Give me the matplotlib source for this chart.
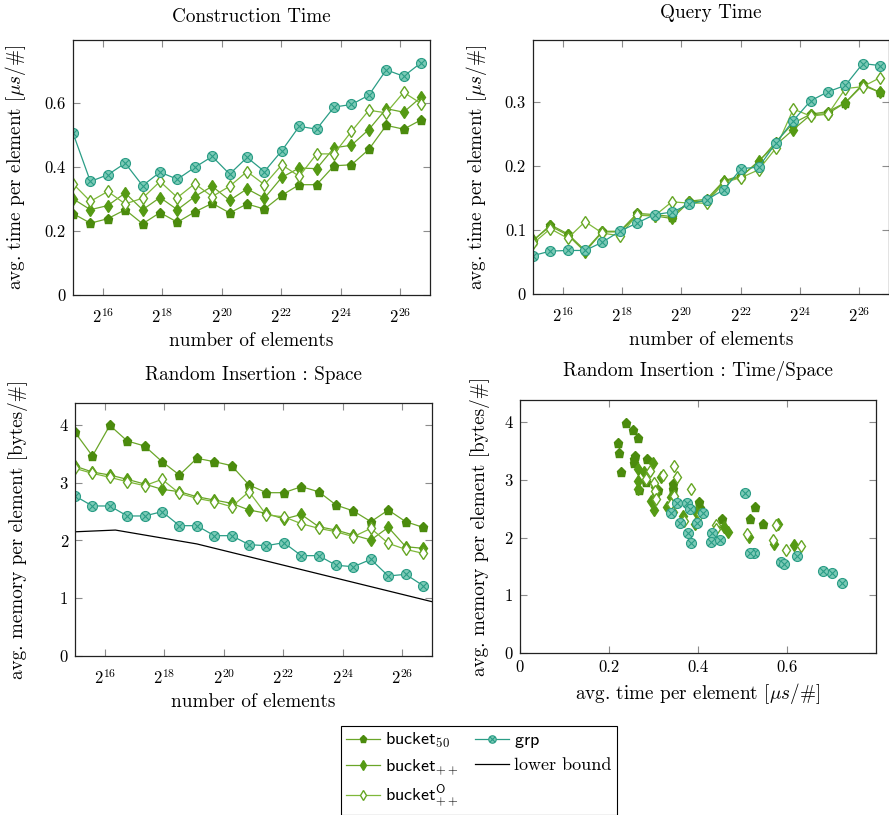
import matplotlib
matplotlib.use("Agg")
import matplotlib.pyplot as plt
from matplotlib.path import Path

plt.rcParams["font.family"] = "cmr10"
plt.rcParams["mathtext.fontset"] = "cm"
plt.rcParams["axes.formatter.use_mathtext"] = True
plt.rcParams["font.size"] = 12

# number of elements (x axis of the first three panels)
n_elements = [32768, 49152, 73728, 110592, 165888, 248832, 373248, 559872,
              839808, 1259712, 1889568, 2834352, 4251528, 6377292, 9565938,
              14348907, 21523360, 32285041, 48427561, 72641342, 108962013]

# construction time per element [us]
build_b50 = [0.254, 0.224, 0.238, 0.266, 0.222, 0.257, 0.227, 0.259, 0.286, 0.256, 0.284,
             0.268, 0.311, 0.344, 0.344, 0.403, 0.406, 0.454, 0.529, 0.517, 0.546]
build_bpp = [0.300, 0.266, 0.279, 0.318, 0.266, 0.304, 0.266, 0.307, 0.339, 0.295, 0.331,
             0.302, 0.367, 0.396, 0.394, 0.459, 0.467, 0.516, 0.581, 0.570, 0.617]
build_bopp = [0.347, 0.292, 0.323, 0.284, 0.302, 0.354, 0.304, 0.347, 0.307, 0.339, 0.385,
              0.344, 0.406, 0.370, 0.440, 0.440, 0.510, 0.576, 0.568, 0.632, 0.597]
build_grp = [0.505, 0.354, 0.375, 0.411, 0.341, 0.383, 0.361, 0.398, 0.432, 0.377, 0.429,
             0.385, 0.450, 0.526, 0.517, 0.586, 0.594, 0.623, 0.702, 0.682, 0.724]

# query time per element [us]
query_b50 = [0.083, 0.108, 0.094, 0.068, 0.098, 0.098, 0.126, 0.124, 0.121, 0.145, 0.148,
             0.177, 0.185, 0.206, 0.238, 0.267, 0.281, 0.285, 0.299, 0.328, 0.315]
query_bpp = [0.084, 0.106, 0.092, 0.066, 0.097, 0.097, 0.123, 0.122, 0.118, 0.144, 0.145,
             0.176, 0.183, 0.208, 0.233, 0.257, 0.280, 0.282, 0.299, 0.326, 0.315]
query_bopp = [0.079, 0.102, 0.087, 0.113, 0.095, 0.091, 0.124, 0.122, 0.144, 0.142, 0.142,
              0.174, 0.182, 0.194, 0.228, 0.289, 0.278, 0.281, 0.321, 0.324, 0.338]
query_grp = [0.060, 0.067, 0.068, 0.068, 0.081, 0.098, 0.111, 0.124, 0.128, 0.140, 0.147,
             0.163, 0.196, 0.198, 0.236, 0.271, 0.302, 0.316, 0.326, 0.360, 0.357]

# memory per element [bytes]
space_b50 = [3.872, 3.462, 3.993, 3.722, 3.635, 3.364, 3.133, 3.422, 3.364, 3.295, 2.960,
             2.827, 2.827, 2.931, 2.844, 2.613, 2.510, 2.325, 2.527, 2.325, 2.227]
space_bpp = [3.288, 3.184, 3.133, 3.058, 2.977, 2.885, 2.844, 2.757, 2.700, 2.643, 2.527,
             2.470, 2.370, 2.450, 2.238, 2.180, 2.094, 2.008, 2.227, 1.892, 1.864]
space_bopp = [3.248, 3.162, 3.093, 3.017, 2.948, 3.058, 2.815, 2.729, 2.671, 2.584, 2.844,
              2.440, 2.410, 2.290, 2.210, 2.151, 2.065, 2.210, 1.950, 1.846, 1.777]
space_grp = [2.770, 2.597, 2.597, 2.424, 2.424, 2.499, 2.256, 2.256, 2.083, 2.083, 1.927,
             1.910, 1.962, 1.737, 1.737, 1.570, 1.546, 1.673, 1.385, 1.414, 1.218]

lb_elements = [32768, 84000, 559872, 134217728]
lb_space = [2.15, 2.18, 1.94, 0.94]

labels = [r"$\mathsf{bucket}_{50}$", r"$\mathsf{bucket}_{++}$",
          r"$\mathsf{bucket}^{\mathsf{O}}_{++}$", r"$\mathsf{grp}$"]

# circle with a cross (pgfplots otimes*)
d = 0.7071
otimes = Path.make_compound_path(
    Path.unit_circle(),
    Path([(-d, -d), (d, d), (-d, d), (d, -d)],
         [Path.MOVETO, Path.LINETO, Path.MOVETO, Path.LINETO]))

styles = [
    dict(color="#6aa628", marker="p", ms=6.8, mfc="#4b8b0d", mec="#4b8b0d"),
    dict(color="#6aa628", marker="d", ms=6.3, mfc="#559a14", mec="#559a14"),
    dict(color="#7fb83a", marker="d", ms=6.3, mfc="white", mec="#66a624", mew=1.0),
    dict(color="#2a9d86", marker=otimes, ms=7.2, mfc="#7ccab6", mec="#2a9d86", mew=0.8),
]

LABEL_FS = 13.8

fig = plt.figure(figsize=(8.89, 8.15), dpi=100)
ax1 = fig.add_axes([0.0821, 0.638, 0.4016, 0.3129])
ax2 = fig.add_axes([0.5996, 0.6393, 0.4004, 0.3117])
ax3 = fig.add_axes([0.0844, 0.1951, 0.4016, 0.3108])
ax4 = fig.add_axes([0.5844, 0.1988, 0.4010, 0.3104])


def style_axes(ax):
    ax.tick_params(which="both", direction="in", top=True, right=True,
                   length=5, width=0.8, color="#8c8c8c", labelsize=12, pad=5)
    for sp in ax.spines.values():
        sp.set_linewidth(0.9)
        sp.set_color("#222222")


def log2_axis(ax):
    ax.set_xscale("log", base=2)
    ax.set_xlim(2**15, 2**27)
    ax.set_xticks([2**k for k in range(16, 27, 2)])
    ax.set_xticklabels([r"$2^{%d}$" % k for k in range(16, 27, 2)])
    ax.minorticks_off()
    ax.tick_params(axis="x", pad=8.5)
    ax.set_xlabel("number of elements", fontsize=LABEL_FS, labelpad=5)


handles = []
for ys, st, lab in zip([build_b50, build_bpp, build_bopp, build_grp], styles, labels):
    h, = ax1.plot(n_elements, ys, lw=0.9, label=lab, **st)
    handles.append(h)
ax1.set_ylim(0, 0.795)
ax1.set_yticks([0, 0.2, 0.4, 0.6])
ax1.set_yticklabels(["0", "0.2", "0.4", "0.6"])
ax1.set_ylabel(r"avg. time per element [$\mu s/\#$]", fontsize=LABEL_FS)
ax1.set_title("Construction Time", fontsize=LABEL_FS, pad=13)

for ys, st in zip([query_b50, query_bpp, query_bopp, query_grp], styles):
    ax2.plot(n_elements, ys, lw=0.9, **st)
ax2.set_ylim(0, 0.397)
ax2.set_yticks([0, 0.1, 0.2, 0.3])
ax2.set_yticklabels(["0", "0.1", "0.2", "0.3"])
ax2.set_ylabel(r"avg. time per element [$\mu s/\#$]", fontsize=LABEL_FS)
ax2.set_title("Query Time", fontsize=LABEL_FS, pad=16)

for ys, st in zip([space_b50, space_bpp, space_bopp, space_grp], styles):
    ax3.plot(n_elements, ys, lw=0.9, **st)
lb, = ax3.plot(lb_elements, lb_space, color="black", lw=0.9, label="lower bound")
handles.append(lb)
ax3.set_ylim(0, 4.385)
ax3.set_yticks([0, 1, 2, 3, 4])
ax3.set_yticklabels(["0", "1", "2", "3", "4"])
ax3.set_ylabel("avg. memory per element [bytes/#]", fontsize=LABEL_FS)
ax3.set_title("Random Insertion : Space", fontsize=LABEL_FS, pad=16)

for xs, ys, st in zip([build_b50, build_bpp, build_bopp, build_grp],
                      [space_b50, space_bpp, space_bopp, space_grp], styles):
    ax4.plot(xs, ys, ls="none", **st)
ax4.set_xlim(0, 0.8)
ax4.set_xticks([0, 0.2, 0.4, 0.6])
ax4.set_xticklabels(["0", "0.2", "0.4", "0.6"])
ax4.set_ylim(0, 4.385)
ax4.set_yticks([0, 1, 2, 3, 4])
ax4.set_yticklabels(["0", "1", "2", "3", "4"])
ax4.set_xlabel(r"avg. time per element [$\mu s/\#$]", fontsize=LABEL_FS, labelpad=4)
ax4.set_ylabel("avg. memory per element [bytes/#]", fontsize=LABEL_FS)
ax4.set_title("Random Insertion : Time/Space", fontsize=LABEL_FS, pad=17.5)

for ax in (ax1, ax2, ax3, ax4):
    style_axes(ax)
for ax in (ax1, ax2, ax3):
    log2_axis(ax)

# y labels sit at a common distance, as pgfplots does
ax1.yaxis.set_label_coords(-0.127, 0.5)
ax2.yaxis.set_label_coords(-0.125, 0.5)
ax3.yaxis.set_label_coords(-0.133, 0.5)
ax4.yaxis.set_label_coords(-0.084, 0.5)

leg = fig.legend(handles=handles, ncol=2, loc="upper center",
                 bbox_to_anchor=(479 / 889, 1 - 726 / 815), fontsize=13,
                 frameon=True, fancybox=False, edgecolor="black", framealpha=1,
                 handlelength=1.85, handletextpad=0.3, columnspacing=0.9,
                 labelspacing=0.4, borderpad=0.3, borderaxespad=0,
                 markerscale=0.75)
leg.get_frame().set_linewidth(0.8)

fig.savefig("out.png", dpi=100)
